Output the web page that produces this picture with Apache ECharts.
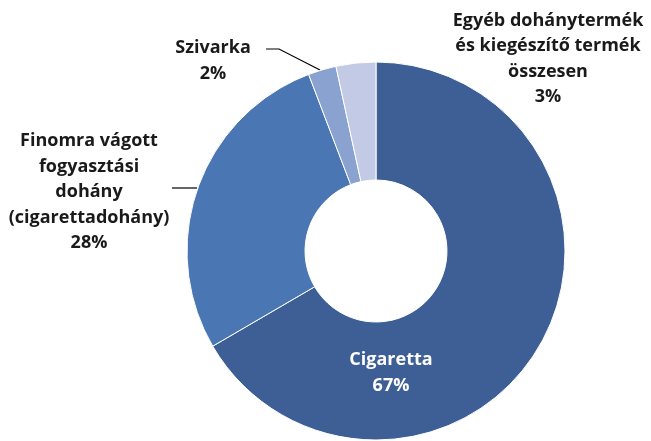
<!DOCTYPE html>
<html>
<head>
<meta charset="utf-8">
<script src="https://cdn.jsdelivr.net/npm/echarts@6/dist/echarts.min.js"></script>
<style>
  html, body { margin: 0; padding: 0; background: #fff; }
  #main { width: 651px; height: 441px; }
</style>
</head>
<body>
<div id="main"></div>
<script>
// slice names (line breaks as in the original labels)
var categories = [
  'Cigaretta',
  'Finomra vágott\nfogyasztási\ndohány\n(cigarettadohány)',
  'Szivarka',
  'Egyéb dohánytermék\nés kiegészítő termék\nösszesen'
];
// shares in percent
var shares = [66.6, 27.6, 2.4, 3.4];
var colors = ['#3d5f95', '#4a77b3', '#8aa2cf', '#c3cae6'];

// where each label sits (centre of the text block) and its leader line
var labelSpots = [
  { x: 391, y: 373, line: null },
  { x: 89, y: 192, line: [[197, 188], [172, 188]] },
  { x: 213, y: 61, line: [[320, 70], [279, 49], [266, 49]] },
  { x: 548, y: 59, line: null }
];

var chart = echarts.init(document.getElementById('main'));

var pieData = categories.map(function (name, i) {
  var item = { name: name, value: shares[i], itemStyle: { color: colors[i] } };
  if (i === 0) {
    item.label = { color: '#fff' };
    item.labelLine = { show: false };
  }
  if (i === 3) item.labelLine = { show: false };
  return item;
});

chart.setOption({
  animation: false,
  series: [{
    type: 'pie',
    center: [376, 251],
    radius: [71, 189],
    startAngle: 90,
    clockwise: true,
    itemStyle: { borderColor: '#fff', borderWidth: 1 },
    label: {
      show: true,
      position: 'outside',
      overflow: 'none',
      fontFamily: 'Open Sans',
      fontWeight: 'bold',
      fontSize: 18,
      lineHeight: 25.5,
      color: '#1a1a1a',
      align: 'center',
      formatter: function (p) {
        return p.name + '\n' + Math.round(p.value) + '%';
      }
    },
    labelLine: { show: true, lineStyle: { color: '#000', width: 1.2 } },
    labelLayout: function (params) {
      var s = labelSpots[params.dataIndex];
      var out = { x: s.x, y: s.y, align: 'center', verticalAlign: 'middle' };
      if (s.line) out.labelLinePoints = s.line;
      return out;
    },
    data: pieData
  }]
});
</script>
</body>
</html>
